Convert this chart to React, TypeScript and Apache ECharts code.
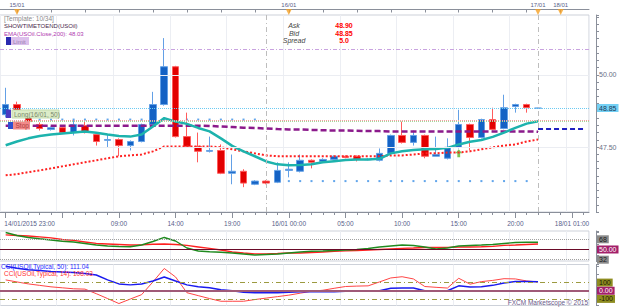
import React, { useEffect, useRef } from 'react';
import * as echarts from 'echarts';

const categories = [
  '14/01 23:00',
  '15/01 00:00', '15/01 01:00', '15/01 02:00', '15/01 03:00', '15/01 04:00', '15/01 05:00',
  '15/01 06:00', '15/01 07:00', '15/01 08:00', '15/01 09:00', '15/01 10:00', '15/01 11:00',
  '15/01 12:00', '15/01 13:00', '15/01 14:00', '15/01 15:00', '15/01 16:00', '15/01 17:00',
  '15/01 18:00', '15/01 19:00', '15/01 20:00', '15/01 21:00', '15/01 22:00', '15/01 23:00',
  '16/01 00:00', '16/01 01:00', '16/01 02:00', '16/01 03:00', '16/01 04:00', '16/01 05:00',
  '16/01 06:00', '16/01 07:00', '16/01 08:00', '16/01 09:00', '16/01 10:00', '16/01 11:00',
  '16/01 12:00', '16/01 13:00', '16/01 14:00', '16/01 15:00', '16/01 16:00', '16/01 17:00',
  '16/01 18:00', '16/01 19:00', '16/01 20:00', '16/01 21:00',
  '17/01 00:00', '17/01 12:00', '18/01 00:00', '18/01 01:00', '18/01 02:00',
];

const bottomTickIdx = [0, 10, 15, 20, 25, 30, 35, 40, 45, 50];
const bottomTickText = ['14/01/2015 23:00', '09:00', '14:00', '19:00', '16/01 00:00', '05:00', '10:00', '15:00', '20:00', '18/01 01:00'];
const topMarkIdx = [1, 25, 47, 49];
const topMarkText = ['15/01', '16/01', '17/01', '18/01'];

const open = [48.62, 48.97, 48.69, 48.28, 48.11, 48.17, 48.00, 48.24, 47.93, 47.73, 47.76, 47.55, 47.69, 48.28, 48.97, 50.28, 47.86, 47.52, 47.35, 47.38, 46.59, 46.66, 46.21, 46.32, 46.28, 46.69, 46.66, 47.04, 47.00, 47.07, 47.18, 47.18, 47.06, 47.04, 47.28, 47.90, 47.66, 47.90, 47.18, 47.11, 47.49, 48.28, 47.83, 48.45, 48.14, 48.90, 48.97, 48.84];
const close = [48.97, 48.69, 48.38, 48.14, 48.17, 48.00, 48.28, 48.00, 47.69, 47.76, 47.55, 47.69, 48.28, 48.97, 50.28, 47.86, 47.52, 47.35, 47.38, 46.59, 46.66, 46.25, 46.32, 46.25, 46.69, 46.73, 47.04, 46.97, 47.07, 47.18, 47.14, 47.07, 47.07, 47.28, 47.90, 47.66, 47.90, 47.18, 47.24, 47.49, 48.28, 47.83, 48.45, 48.11, 48.86, 48.97, 48.86, 48.85];
const low = [48.52, 48.62, 48.31, 48.07, 48.07, 47.97, 47.90, 47.97, 47.55, 47.49, 47.18, 47.38, 47.66, 48.24, 48.93, 47.83, 47.49, 46.97, 47.31, 46.56, 46.21, 46.11, 46.18, 46.21, 46.25, 46.45, 46.62, 46.76, 46.97, 47.04, 47.11, 47.00, 47.04, 47.00, 47.24, 47.62, 47.55, 47.11, 47.18, 47.07, 47.45, 47.38, 47.80, 48.07, 48.11, 48.69, 48.69, 48.83];
const high = [49.55, 49.07, 48.79, 48.35, 48.21, 48.21, 48.45, 48.38, 47.97, 47.93, 47.80, 47.73, 48.31, 49.41, 51.27, 50.31, 48.69, 48.00, 47.86, 47.59, 47.24, 46.73, 46.35, 46.35, 46.97, 46.97, 47.24, 47.07, 47.11, 47.21, 47.21, 47.21, 47.11, 47.45, 47.93, 48.38, 48.07, 47.93, 47.86, 47.80, 48.79, 48.31, 48.48, 48.86, 49.31, 49.00, 49.00, 48.86];

const emaFast = [47.56, 47.69, 47.80, 47.88, 47.93, 47.97, 48.00, 48.04, 47.99, 47.93, 47.88, 47.86, 47.93, 48.21, 48.50, 48.38, 48.30, 48.16, 48.04, 47.80, 47.54, 47.35, 47.18, 47.00, 46.90, 46.87, 46.88, 46.90, 46.97, 47.01, 47.05, 47.07, 47.07, 47.09, 47.28, 47.35, 47.40, 47.42, 47.43, 47.47, 47.59, 47.68, 47.74, 47.85, 48.00, 48.16, 48.31, 48.39];
const emaSlow = [46.52, 46.56, 46.63, 46.69, 46.76, 46.83, 46.90, 46.97, 47.04, 47.11, 47.18, 47.21, 47.24, 47.35, 47.52, 47.52, 47.52, 47.52, 47.52, 47.49, 47.42, 47.35, 47.28, 47.21, 47.18, 47.18, 47.18, 47.18, 47.18, 47.18, 47.18, 47.18, 47.18, 47.18, 47.21, 47.21, 47.24, 47.28, 47.28, 47.31, 47.31, 47.35, 47.42, 47.49, 47.55, 47.59, 47.69, 47.76];
const ema200 = [48.24, 48.24, 48.24, 48.24, 48.24, 48.24, 48.24, 48.24, 48.24, 48.24, 48.24, 48.24, 48.24, 48.24, 48.24, 48.24, 48.24, 48.24, 48.23, 48.21, 48.19, 48.17, 48.16, 48.14, 48.12, 48.11, 48.11, 48.09, 48.08, 48.07, 48.07, 48.06, 48.05, 48.05, 48.04, 48.04, 48.04, 48.04, 48.04, 48.04, 48.04, 48.04, 48.04, 48.04, 48.04, 48.04, 48.04, 48.03];
const trailStop = [null, null, null, 48.45, 48.45, 48.45, 48.45, 48.45, 48.45, 48.45, 48.45, 48.45, 48.45, 48.45, 48.45, 48.45, 48.45, 48.45, 48.45, 48.45, 48.45, 48.45, 48.45, null, null, 46.32, 46.32, 46.32, 46.32, 46.32, 46.32, 46.32, 46.32, 46.32, 46.32, 46.32, 46.32, 46.32, 46.32, 46.32, 46.32, 46.32, 46.32, 46.32, 46.32, 46.32, 46.32, null];

const rsiFast = [80.0, 74.7, 71.2, 68.9, 66.8, 64.5, 63.2, 60.6, 57.9, 56.2, 55.3, 54.9, 57.9, 64.1, 71.2, 65.0, 52.6, 47.4, 46.1, 45.1, 43.8, 42.1, 40.3, 41.2, 42.1, 43.8, 45.6, 46.8, 47.4, 48.2, 49.1, 50.0, 51.8, 54.4, 56.2, 57.9, 57.1, 54.4, 50.9, 52.6, 56.2, 57.1, 57.9, 58.8, 60.6, 62.3, 62.7, 62.7];
const rsiSlow = [75.6, 74.7, 73.8, 72.1, 70.3, 67.6, 65.9, 63.2, 60.6, 59.7, 58.8, 57.9, 58.3, 59.2, 59.7, 58.8, 57.1, 54.4, 51.8, 49.1, 45.6, 43.8, 42.1, 42.1, 42.9, 43.8, 43.8, 44.7, 45.6, 46.5, 47.4, 48.2, 49.1, 50.0, 50.9, 51.8, 52.6, 53.5, 53.5, 53.9, 54.4, 54.4, 54.8, 55.6, 57.1, 57.9, 58.8, 59.7];

const cci50 = [301, 277, 259, 247, 235, 229, 223, 211, 193, 133, 84, 72, 84, 120, 169, 120, 72, 48, 36, 12, 0, -18, -24, -24, -24, -18, -12, -12, -12, -12, -6, -6, -6, 0, 30, 33, 33, 0, 0, 0, 60, 45, 48, 66, 96, 112, 112, 111];
const cci14 = [133, 108, 84, 66, 48, 36, 24, 20, -36, -96, -157, -102, -48, 108, 273, 169, -24, -60, -96, -129, -129, -129, -108, -90, -72, -54, -30, -6, 6, 30, 52, 57, 60, 108, 157, 172, 145, 52, 42, 33, 153, 81, 112, 127, 148, 145, 120, 108];

const FONT = 'Liberation Sans';
const AXIS_TXT = '#58608a';
const AXIS_LINE = '#8a8f9a';
const BORDER = '#cdd1d9';
const SPLIT = '#eceef3';

function buildOption() {
  const candleData = open.map((o, i) => [o, close[i], low[i], high[i]]);
  const dots = trailStop.map((v, i) => (v == null ? null : [i, v])).filter((d) => d !== null);
  const every5 = (i: number) => i % 5 === 0;

  const lowerX = (gridIndex: number) => ({
    type: 'category', gridIndex, data: categories, boundaryGap: true,
    axisLine: { show: false }, axisTick: { show: false }, axisLabel: { show: false },
    splitLine: { show: true, interval: every5, lineStyle: { color: SPLIT } },
  });

  const levelLabel = (text: string, bg: string, fg: string) => ({
    show: true, position: 'end', distance: 8, formatter: text, backgroundColor: bg, color: fg,
    fontSize: 7, fontFamily: FONT, padding: [1, 2, 0, 2],
  });

  const T = (text: string, x: number, y: number, fill: string, font: string, align = 'left') => ({
    type: 'text', x, y, z: 100,
    style: { text, fill, font, align, textAlign: align, verticalAlign: 'middle', textVerticalAlign: 'middle' },
  });
  const R = (x: number, y: number, w: number, h: number, fill: string, stroke?: string) => ({
    type: 'rect', z: 99, shape: { x, y, width: w, height: h },
    style: { fill, stroke: stroke || null, lineWidth: 1 },
  });

  return {
    animation: false,
    backgroundColor: '#ffffff',
    textStyle: { fontFamily: FONT },
    grid: [
      { left: -2.7, top: 15, width: 591.7, height: 197, show: true, borderColor: BORDER, borderWidth: 1, backgroundColor: '#fff' },
      { left: -2.7, top: 231, width: 591.7, height: 30, show: true, borderColor: BORDER, borderWidth: 1 },
      { left: -2.7, top: 264.5, width: 591.7, height: 41, show: true, borderColor: BORDER, borderWidth: 1 },
    ],
    xAxis: [
      {
        type: 'category', gridIndex: 0, data: categories, boundaryGap: true, position: 'bottom',
        axisLine: { show: true, lineStyle: { color: AXIS_LINE } },
        axisTick: { show: true, interval: 0, alignWithLabel: true, length: 3, lineStyle: { color: AXIS_LINE } },
        axisLabel: {
          interval: 0, margin: 8, fontSize: 6.5, color: AXIS_TXT, fontFamily: FONT,
          formatter: (_v: string, idx: number) => {
            const j = bottomTickIdx.indexOf(idx);
            if (j < 0) return '';
            if (idx === 0) return '{first|' + bottomTickText[0] + '}';
            return bottomTickText[j];
          },
          rich: { first: { padding: [0, 0, 0, 48], fontSize: 6.5, color: AXIS_TXT, fontFamily: FONT } },
        },
        splitLine: { show: true, interval: every5, lineStyle: { color: SPLIT } },
      },
      {
        type: 'category', gridIndex: 0, data: categories, boundaryGap: true, position: 'bottom',
        axisLine: { show: false },
        axisTick: { show: true, interval: every5, alignWithLabel: true, length: 6, lineStyle: { color: AXIS_LINE } },
        axisLabel: { show: false }, splitLine: { show: false },
      },
      {
        type: 'category', gridIndex: 0, data: categories, boundaryGap: true, position: 'top', offset: 5.5,
        axisLine: { show: true, lineStyle: { color: AXIS_LINE } },
        axisTick: { show: true, inside: true, interval: (i: number) => i % 3 === 1, alignWithLabel: true, length: 3, lineStyle: { color: AXIS_LINE } },
        axisLabel: {
          interval: 0, margin: 2, fontSize: 6, color: AXIS_TXT, fontFamily: FONT,
          formatter: (_v: string, idx: number) => {
            const j = topMarkIdx.indexOf(idx);
            return j < 0 ? '' : topMarkText[j];
          },
        },
        splitLine: { show: false },
      },
      lowerX(1),
      lowerX(2),
    ],
    yAxis: [
      {
        type: 'value', gridIndex: 0, position: 'right', offset: 7, min: 45.25, max: 52.07, interval: 0.25, scale: true,
        axisLine: { show: true, lineStyle: { color: AXIS_LINE } },
        axisTick: { show: true, length: 3, lineStyle: { color: AXIS_LINE } },
        axisLabel: {
          margin: 3, fontSize: 7, color: '#6a6e84', fontFamily: FONT,
          formatter: (v: number) => (Math.abs(v - 50) < 1e-6 ? '50.00' : Math.abs(v - 47.5) < 1e-6 ? '47.50' : ''),
        },
        splitLine: { show: false },
      },
      {
        type: 'value', gridIndex: 1, position: 'right', offset: 7, min: 29.7, max: 82.6,
        axisLine: { show: true, lineStyle: { color: AXIS_LINE } },
        axisTick: { show: true, length: 3, lineStyle: { color: AXIS_LINE } },
        axisLabel: { show: false }, splitLine: { show: false },
      },
      {
        type: 'value', gridIndex: 2, position: 'right', offset: 7, min: -181, max: 322,
        axisLine: { show: true, lineStyle: { color: AXIS_LINE } },
        axisTick: { show: true, length: 3, lineStyle: { color: AXIS_LINE } },
        axisLabel: { show: false }, splitLine: { show: false },
      },
    ],
    series: [
      {
        type: 'scatter', xAxisIndex: 0, yAxisIndex: 0, data: dots, symbol: 'rect', symbolSize: [2, 2],
        itemStyle: { color: '#3a8ee6' }, silent: true,
      },
      {
        type: 'candlestick', xAxisIndex: 0, yAxisIndex: 0, data: candleData, barWidth: 7,
        itemStyle: { color: '#1462c4', color0: '#e20000', borderColor: '#63a0e6', borderColor0: '#ff5c5c', borderWidth: 1 },
        silent: true,
      },
      {
        type: 'line', xAxisIndex: 0, yAxisIndex: 0, data: emaSlow, symbol: 'none',
        lineStyle: { color: '#ff2222', width: 2, type: 'dotted' }, silent: true,
      },
      {
        type: 'line', xAxisIndex: 0, yAxisIndex: 0, data: ema200, symbol: 'none',
        lineStyle: { color: '#8b1a8b', width: 2.5, type: [6, 3] }, silent: true,
        markLine: {
          symbol: ['none', 'none'], silent: true, animation: false,
          label: { show: false },
          data: [
            { yAxis: 50.9, lineStyle: { color: '#c9a3e0', type: [4, 2, 1, 2], width: 1 } },
            { yAxis: 50, lineStyle: { color: '#ebedf2', type: 'solid', width: 1 } },
            { yAxis: 47.5, lineStyle: { color: '#ebedf2', type: 'solid', width: 1 } },
            { yAxis: 48.85, lineStyle: { color: '#6ccaf2', type: 'dotted', width: 1 }, label: levelLabel('48.85', '#74d0f4', '#1a3a5a') },
            { yAxis: 48.42, lineStyle: { color: '#f2a0a0', type: 'dotted', width: 1 } },
            { yAxis: 48.39, lineStyle: { color: '#a6d89c', type: 'dotted', width: 1 } },
            { xAxis: 23, lineStyle: { color: '#bdbdbd', type: [5, 3, 1, 3], width: 1 } },
            { xAxis: 47, lineStyle: { color: '#bdbdbd', type: [5, 3, 1, 3], width: 1 } },
            [
              { coord: [47, 48.13], lineStyle: { color: '#2020c0', type: [5, 3], width: 2 } },
              { coord: [51, 48.13] },
            ],
          ],
        },
      },
      {
        type: 'line', xAxisIndex: 0, yAxisIndex: 0, data: emaFast, symbol: 'none',
        lineStyle: { color: '#1db3ad', width: 2.5 }, silent: true,
      },
      {
        type: 'scatter', xAxisIndex: 0, yAxisIndex: 0, clip: false,
        data: topMarkIdx.map((i) => [i, 52.07]), symbol: 'triangle', symbolRotate: 180,
        symbolSize: [6, 6], symbolOffset: [0, -3], itemStyle: { color: '#f5a023' }, silent: true,
      },
      {
        type: 'scatter', xAxisIndex: 0, yAxisIndex: 0, data: [[40, 47.28]],
        symbol: 'path://M5,0 L10,5 L7,5 L7,10 L3,10 L3,5 L0,5 Z', symbolSize: [7, 8],
        itemStyle: { color: '#58b82a' }, silent: true,
      },
      {
        type: 'line', xAxisIndex: 3, yAxisIndex: 1, data: rsiSlow, symbol: 'none',
        lineStyle: { color: '#ff2020', width: 1.3 }, silent: true,
        markLine: {
          symbol: ['none', 'none'], silent: true, animation: false, label: { show: false },
          data: [
            { yAxis: 68, lineStyle: { color: '#a0a0a0', type: 'dotted', width: 1 }, label: levelLabel('68', '#8a8a8a', '#1a1a1a') },
            { yAxis: 32, lineStyle: { color: '#a0a0a0', type: 'dotted', width: 1 }, label: levelLabel('32', '#8a8a8a', '#1a1a1a') },
            { yAxis: 50, lineStyle: { color: '#6a0a28', type: 'solid', width: 1.2 }, label: levelLabel('50.00', '#a3206a', '#ffffff') },
          ],
        },
      },
      {
        type: 'line', xAxisIndex: 3, yAxisIndex: 1, data: rsiFast, symbol: 'none',
        lineStyle: { color: '#1f8a1f', width: 1.4 }, silent: true,
      },
      {
        type: 'line', xAxisIndex: 4, yAxisIndex: 2, data: cci14, symbol: 'none',
        lineStyle: { color: '#ff4545', width: 1 }, silent: true,
        markLine: {
          symbol: ['none', 'none'], silent: true, animation: false, label: { show: false },
          data: [
            { yAxis: 100, lineStyle: { color: '#9c9a40', type: [5, 3, 1, 3], width: 1 }, label: levelLabel('100', '#8e8c20', '#1a1a00') },
            { yAxis: -100, lineStyle: { color: '#9c9a40', type: [5, 3, 1, 3], width: 1 }, label: levelLabel('-100', '#8e8c20', '#1a1a00') },
            { yAxis: 0, lineStyle: { color: '#a05a78', type: 'solid', width: 2 }, label: levelLabel('0.00', '#a3206a', '#ffffff') },
          ],
        },
      },
      {
        type: 'line', xAxisIndex: 4, yAxisIndex: 2, data: cci50, symbol: 'none',
        lineStyle: { color: '#1a1aee', width: 1.5 }, silent: true,
      },
    ],
    graphic: [
      T('[Template: 10/34]', 4, 18.5, '#8a8a8a', '6.5px "Liberation Sans"'),
      T('SHOWTIMETOEND(USOil)', 4, 26, '#4a2a4a', '6px "Liberation Sans"'),
      T('EMA(USOil.Close,200): 48.03', 4, 33.5, '#b03ab0', '6px "Liberation Sans"'),
      R(6, 37, 5, 8, '#2a2ab0'),
      R(11, 37, 18, 8, '#dcc0ec'),
      T('Limit', 13, 41.5, '#9a80b0', '6px "Liberation Sans"'),
      R(6, 109.5, 5, 8.5, '#4a3ac0'),
      R(12, 110, 47, 8, '#dcecc8', '#c4dcae'),
      T('Long(16/01, 50)', 14, 114.3, '#7a8a6a', '6.5px "Liberation Sans"'),
      R(8, 122, 5, 7, '#3050d0'),
      R(13, 121.5, 17, 8, '#f28a8a'),
      T('Stop', 15.5, 125.7, '#b04040', '6.5px "Liberation Sans"'),
      T('Ask', 294, 25.5, '#444444', 'italic 7px "Liberation Sans"', 'center'),
      T('Bid', 294, 33, '#444444', 'italic 7px "Liberation Sans"', 'center'),
      T('Spread', 294, 40.5, '#444444', 'italic 7px "Liberation Sans"', 'center'),
      T('48.90', 344, 25.5, '#ff0000', 'bold 7px "Liberation Sans"', 'center'),
      T('48.85', 344, 33, '#ff0000', 'bold 7px "Liberation Sans"', 'center'),
      T('5.0', 344, 40.5, '#ff0000', 'bold 7px "Liberation Sans"', 'center'),
      T('CCI(USOil,Typical, 50): 111.04', 1, 266.5, '#2a2aff', '6.5px "Liberation Sans"'),
      T('CCI(USOil,Typical, 14): 108.03', 4, 273.8, '#ff3030', '6.5px "Liberation Sans"'),
      T('FXCM Marketscope © 2015', 588, 302, '#6a5a8a', '6.5px "Liberation Sans"', 'right'),
    ],
  };
}

export default function App() {
  const ref = useRef<HTMLDivElement>(null);
  useEffect(() => {
    if (!ref.current) return;
    const chart = echarts.init(ref.current, null, { renderer: 'svg' });
    chart.setOption(buildOption() as any);
    return () => chart.dispose();
  }, []);
  return (
    <div
      ref={ref}
      style={{ position: 'absolute', left: 0, top: 0, width: 625, height: 307, background: '#ffffff' }}
    />
  );
}
